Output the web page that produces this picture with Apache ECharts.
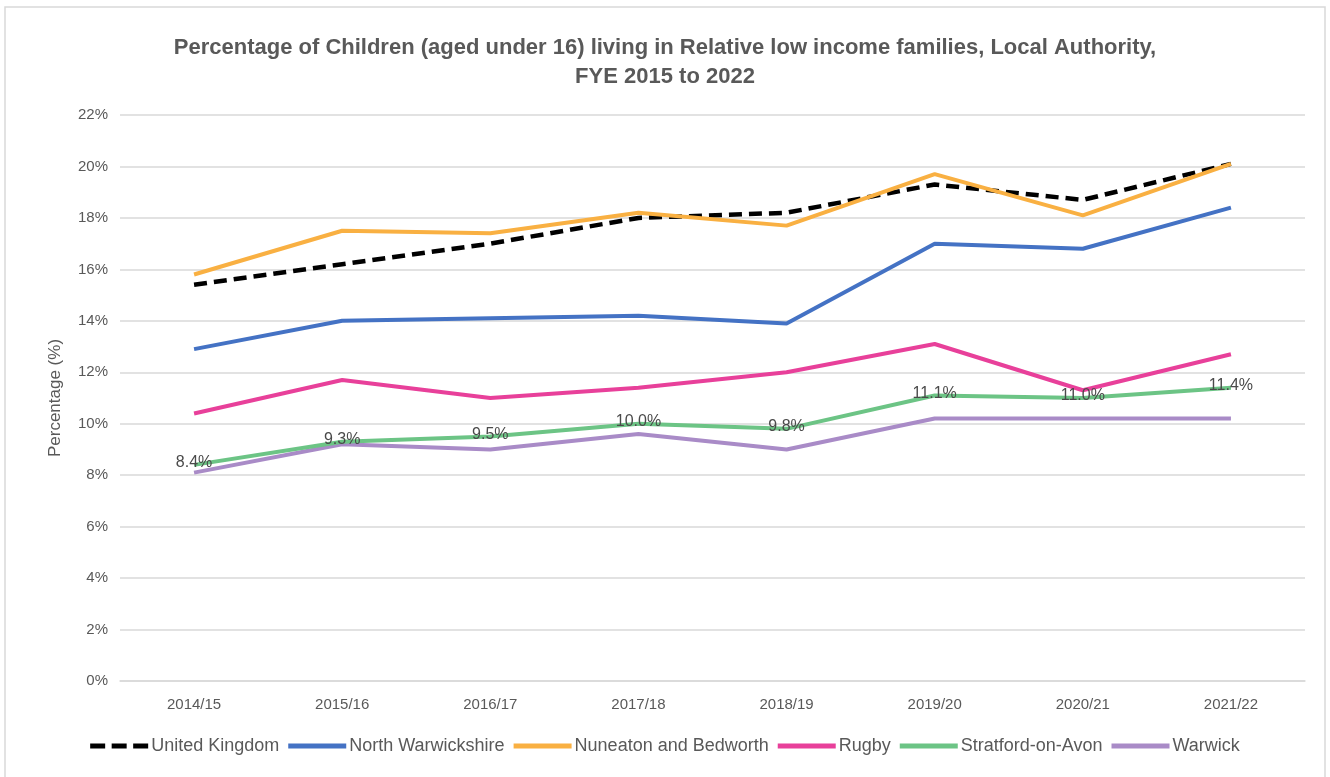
<!DOCTYPE html>
<html>
<head>
<meta charset="UTF-8">
<title>Children in relative low income families</title>
<script src="https://cdn.jsdelivr.net/npm/echarts@6/dist/echarts.min.js"></script>
<style>
  html, body { margin: 0; padding: 0; background: #fff; }
  #main { width: 1330px; height: 777px; }
</style>
</head>
<body>
<div id="main"></div>
<script>
// data
var years = ['2014/15', '2015/16', '2016/17', '2017/18', '2018/19', '2019/20', '2020/21', '2021/22'];
var unitedKingdom = [15.4, 16.2, 17.0, 18.0, 18.2, 19.3, 18.7, 20.1];
var northWarwickshire = [12.9, 14.0, 14.1, 14.2, 13.9, 17.0, 16.8, 18.4];
var nuneaton = [15.8, 17.5, 17.4, 18.2, 17.7, 19.7, 18.1, 20.1];
var rugby = [10.4, 11.7, 11.0, 11.4, 12.0, 13.1, 11.3, 12.7];
var stratford = [8.4, 9.3, 9.5, 10.0, 9.8, 11.1, 11.0, 11.4];
var warwick = [8.1, 9.2, 9.0, 9.6, 9.0, 10.2, 10.2, 10.2];

var grey = '#595959';
var font = '"Liberation Sans", "Open Sans", sans-serif';

function line(name, data, color, extra) {
  var s = {
    name: name,
    type: 'line',
    data: data,
    symbol: 'circle',
    symbolSize: 0,
    lineStyle: { color: color, width: 4 },
    itemStyle: { color: color },
    z: 2
  };
  for (var k in extra) s[k] = extra[k];
  return s;
}

var chart = echarts.init(document.getElementById('main'));
chart.setOption({
  animation: false,
  textStyle: { fontFamily: font },
  title: {
    text: 'Percentage of Children (aged under 16) living in Relative low income families, Local Authority,\nFYE 2015 to 2022',
    left: 'center',
    top: 28,
    textStyle: { color: grey, fontSize: 22, fontWeight: 'bold', lineHeight: 29, fontFamily: font }
  },
  graphic: [{
    type: 'rect',
    shape: { x: 5, y: 7, width: 1320, height: 775 },
    style: { fill: 'none', stroke: '#d9d9d9', lineWidth: 1.5 },
    silent: true
  }],
  legend: {
    bottom: 17,
    left: 'center',
    itemWidth: 58,
    itemHeight: 5,
    itemGap: 9,
    icon: 'rect',
    textStyle: { color: grey, fontSize: 18, padding: [0, 0, 0, -2] },
    data: [
      { name: 'United Kingdom', icon: 'path://M0,0h15v5h-15zM21.5,0h15v5h-15zM43,0h15v5h-15z' },
      'North Warwickshire', 'Nuneaton and Bedworth', 'Rugby', 'Stratford-on-Avon', 'Warwick'
    ]
  },
  grid: { left: 120, right: 25, top: 115, bottom: 96, containLabel: false },
  xAxis: {
    type: 'category',
    data: years,
    boundaryGap: true,
    axisLine: { lineStyle: { color: '#d9d9d9', width: 1.5 } },
    axisTick: { show: false },
    axisLabel: { color: grey, fontSize: 15, margin: 16 }
  },
  yAxis: {
    type: 'value',
    min: 0,
    max: 22,
    interval: 2,
    name: 'Percentage (%)',
    nameLocation: 'middle',
    nameRotate: 90,
    nameGap: 56,
    nameTextStyle: { color: grey, fontSize: 17 },
    axisLine: { show: false },
    axisTick: { show: false },
    splitLine: { lineStyle: { color: '#d9d9d9', width: 1.5 } },
    axisLabel: { color: grey, fontSize: 15, margin: 12, formatter: '{value}%' }
  },
  series: [
    line('United Kingdom', unitedKingdom, '#000000', {
      lineStyle: { color: '#000000', width: 4.5, type: [13, 7] }, z: 3
    }),
    line('North Warwickshire', northWarwickshire, '#4472C4'),
    line('Nuneaton and Bedworth', nuneaton, '#F9B042', { z: 4 }),
    line('Rugby', rugby, '#E8409A'),
    line('Stratford-on-Avon', stratford, '#6CC485', {
      z: 4,
      label: {
        show: true,
        position: 'top',
        offset: [0, 11],
        color: '#4a4a4a',
        fontSize: 16,
        formatter: function (p) { return p.value.toFixed(1) + '%'; }
      }
    }),
    line('Warwick', warwick, '#A98BC7')
  ]
});
</script>
</body>
</html>
